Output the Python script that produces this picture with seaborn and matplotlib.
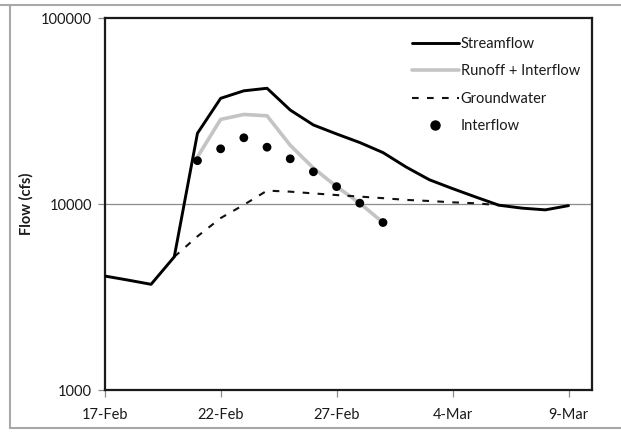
import matplotlib
matplotlib.use("Agg")
import matplotlib.pyplot as plt
from matplotlib.lines import Line2D
import seaborn as sns
import pandas as pd

# ---- data (days since 17-Feb) ----
stream_days = list(range(0, 21))
stream_flow = [4100, 3900, 3700, 5200, 24000, 37000, 40600, 41900, 32000, 26600,
               23800, 21400, 18900, 15800, 13500, 12100, 10900, 9850, 9500, 9300, 9800]

runoff_days = list(range(4, 13))
runoff_flow = [17900, 28500, 30300, 29800, 20700, 15600, 12400, 10100, 7950]

gw_days = list(range(3, 18))
gw_flow = [5200, 6700, 8400, 9900, 11800, 11650, 11400, 11170, 10960, 10750,
           10520, 10380, 10210, 10090, 9850]

inter_days = list(range(4, 13))
inter_flow = [17100, 19800, 22700, 20200, 17500, 14900, 12400, 10100, 7950]

xtick_pos = [0, 5, 10, 15, 20]
xtick_labels = ["17-Feb", "22-Feb", "27-Feb", "4-Mar", "9-Mar"]
ytick_pos = [1000, 10000, 100000]
ytick_labels = ["1000", "10000", "100000"]

sns.set_theme(style="white")
plt.rcParams["font.family"] = ["Lato", "DejaVu Sans"]

W, H = 621, 436
fig = plt.figure(figsize=(W / 100, H / 100), dpi=100)
ax = fig.add_axes([104.7 / W, 1 - 390 / H, (591.7 - 104.7) / W, (390 - 18) / H])

df_s = pd.DataFrame({"day": stream_days, "flow": stream_flow})
df_r = pd.DataFrame({"day": runoff_days, "flow": runoff_flow})
df_g = pd.DataFrame({"day": gw_days, "flow": gw_flow})
df_i = pd.DataFrame({"day": inter_days, "flow": inter_flow})

ax.set_yscale("log")
ax.axhline(10000, color="#8c8c8c", lw=0.9, zorder=1)

sns.lineplot(data=df_r, x="day", y="flow", ax=ax, color="#c4c4c4", lw=2.6, zorder=2)
sns.lineplot(data=df_g, x="day", y="flow", ax=ax, color="#111111", lw=1.5, zorder=3)
gw_line = ax.get_lines()[-1]
gw_line.set_dashes((3.2, 4.0))
sns.lineplot(data=df_s, x="day", y="flow", ax=ax, color="#000000", lw=2.1, zorder=4)
sns.scatterplot(data=df_i, x="day", y="flow", ax=ax, color="#000000", s=40,
                edgecolor="none", zorder=5)

ax.set_xlim(0, 21)
ax.set_ylim(1000, 100000)
ax.set_xticks(xtick_pos)
ax.set_xticklabels(xtick_labels)
ax.set_yticks(ytick_pos)
ax.set_yticklabels(ytick_labels)
ax.minorticks_off()
ax.tick_params(axis="both", which="major", direction="out", length=5, width=0.9,
               color="#8c8c8c", labelsize=10.5, labelcolor="#1a1a1a", pad=4,
               bottom=True, left=True)
ax.tick_params(axis="x", pad=8)
ax.set_xlabel("")
ax.set_ylabel("Flow (cfs)", fontsize=10.5, fontweight="bold", color="#1a1a1a")
ax.yaxis.set_label_coords((34 - 104.7) / 487, 0.5)
for sp in ax.spines.values():
    sp.set_color("#1a1a1a")
    sp.set_linewidth(1.6)
ax.grid(False)

handles = [
    Line2D([], [], color="#000000", lw=2.1),
    Line2D([], [], color="#c4c4c4", lw=2.6),
    Line2D([], [], color="#111111", lw=1.5, dashes=(3.2, 4.0)),
    Line2D([], [], color="#000000", lw=0, marker="o", markersize=6.5),
]
labels = ["Streamflow", "Runoff + Interflow", "Groundwater", "Interflow"]
ax.legend(handles, labels, loc="upper left",
          bbox_to_anchor=((412 - 104.7) / (591.7 - 104.7), 1 - (37 - 18) / 372),
          frameon=False, borderpad=0, borderaxespad=0, handlelength=3.2,
          handletextpad=0.15, labelspacing=0.92, fontsize=10.5,
          labelcolor="#1a1a1a")

# outer border of the picture
bc = "#a8a8a8"
fig.add_artist(Line2D([0, 1], [1 - 5 / H, 1 - 5 / H], transform=fig.transFigure, color=bc, lw=1.5))
fig.add_artist(Line2D([10 / W, 10 / W], [1 - 5 / H, 1 - 428 / H], transform=fig.transFigure, color=bc, lw=1.5))
fig.add_artist(Line2D([10 / W, 1], [1 - 428 / H, 1 - 428 / H], transform=fig.transFigure, color=bc, lw=1.5))

fig.savefig("out.png", dpi=100)
